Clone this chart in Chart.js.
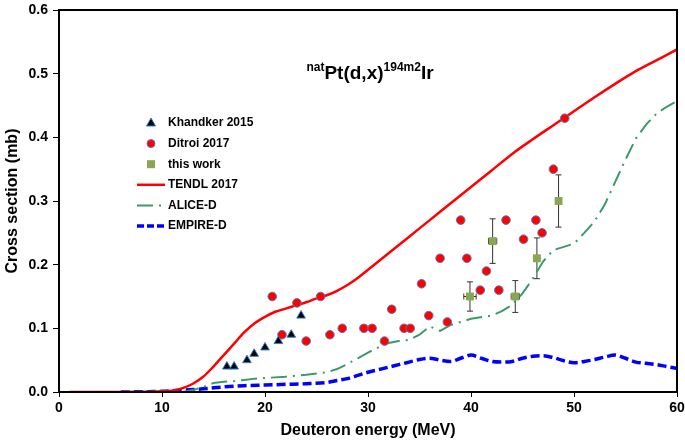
<!DOCTYPE html>
<html>
<head>
<meta charset="utf-8">
<script src="https://cdn.jsdelivr.net/npm/chart.js@4.4.1/dist/chart.umd.min.js"></script>
<style>
  html, body { margin: 0; padding: 0; background: #fff; }
</style>
</head>
<body>
<canvas id="xsChart" width="685" height="444"></canvas>
<script>
// Khandker 2015
const khandkerE  = [16.3, 17.0, 18.25, 18.95, 20.0, 21.3, 22.55, 23.5];
const khandkerXS = [0.04, 0.04, 0.05, 0.06, 0.07, 0.08, 0.09, 0.12];

// Ditroi 2017
const ditroiE  = [20.7, 21.65, 23.1, 24.0, 25.4, 26.3, 27.5, 29.6, 30.4, 31.6, 32.3, 33.5, 34.1, 35.2, 35.9,
                  37.0, 37.7, 39.0, 39.6, 40.9, 41.5, 42.7, 43.4, 45.1, 46.3, 46.9, 48.0, 49.1];
const ditroiXS = [0.15, 0.09, 0.14, 0.08, 0.15, 0.09, 0.10, 0.10, 0.10, 0.08, 0.13, 0.10, 0.10, 0.17, 0.12,
                  0.21, 0.11, 0.27, 0.21, 0.16, 0.19, 0.16, 0.27, 0.24, 0.27, 0.25, 0.35, 0.43];

// this work
const workE    = [39.9, 42.1, 44.3, 46.4, 48.5];
const workXS   = [0.15, 0.237, 0.15, 0.21, 0.30];
const workErrY = [0.023, 0.035, 0.025, 0.032, 0.041];
const workErrX = [0.6, 0.4, 0.4, 0, 0];

// TENDL 2017
const tendlE  = [1, 5, 10, 11, 12, 13, 14, 15, 16, 17, 18, 19, 20, 21, 22, 23, 24, 25, 26, 27, 28, 29, 30,
                 32, 34, 36, 38, 40, 42, 44, 46, 48, 50, 52, 54, 56, 58, 60];
const tendlXS = [0, 0, 0.001, 0.002, 0.006, 0.013, 0.024, 0.04, 0.058, 0.076, 0.094, 0.108, 0.118, 0.126,
                 0.131, 0.136, 0.141, 0.147, 0.152, 0.159, 0.168, 0.179, 0.192, 0.218, 0.244, 0.27, 0.296,
                 0.322, 0.348, 0.374, 0.397, 0.419, 0.441, 0.463, 0.484, 0.504, 0.521, 0.538];

// ALICE-D
const aliceE  = [12, 13, 14, 15, 16, 17, 18, 19, 20, 22, 24, 26, 27, 28, 29, 30, 31, 32, 33, 34, 35, 36, 37,
                 38, 40, 42, 43, 44, 45, 46, 47, 48, 49, 50, 51, 52, 53, 54, 55, 56, 57, 58, 59, 60];
const aliceXS = [0, 0.003, 0.008, 0.014, 0.016, 0.017, 0.019, 0.021, 0.022, 0.024, 0.027, 0.031, 0.036,
                 0.044, 0.053, 0.062, 0.07, 0.077, 0.08, 0.082, 0.09, 0.103, 0.096, 0.105, 0.115, 0.12,
                 0.127, 0.137, 0.155, 0.178, 0.205, 0.223, 0.228, 0.233, 0.25, 0.268, 0.295, 0.33, 0.365,
                 0.398, 0.42, 0.437, 0.448, 0.457];

// EMPIRE-D
const empireE  = [6, 10, 12, 14, 16, 18, 20, 22, 24, 26, 27, 28, 29, 30, 31, 32, 33, 34, 35, 36, 37, 38, 39,
                  40, 41, 42, 43, 44, 45, 46, 47, 48, 49, 50, 51, 52, 53, 54, 55, 56, 57, 58, 59, 60];
const empireXS = [0, 0.001, 0.003, 0.005, 0.008, 0.01, 0.011, 0.012, 0.013, 0.015, 0.018, 0.021, 0.026,
                  0.031, 0.035, 0.039, 0.043, 0.047, 0.051, 0.053, 0.05, 0.048, 0.053, 0.058, 0.053, 0.048,
                  0.047, 0.048, 0.053, 0.056, 0.057, 0.054, 0.049, 0.046, 0.048, 0.051, 0.055, 0.058, 0.053,
                  0.047, 0.045, 0.043, 0.04, 0.037];

const xTicks = [0, 10, 20, 30, 40, 50, 60];
const yTicks = [0.0, 0.1, 0.2, 0.3, 0.4, 0.5, 0.6];

const FONT = "'Liberation Sans', Arial, sans-serif";

function pts(xs, ys) {
    return xs.map((x, i) => ({ x: x, y: ys[i] }));
}

const legendItems = [
    { label: 'Khandker 2015', kind: 'triangle' },
    { label: 'Ditroi 2017', kind: 'circle' },
    { label: 'this work', kind: 'square' },
    { label: 'TENDL 2017', kind: 'solid' },
    { label: 'ALICE-D', kind: 'dashdot' },
    { label: 'EMPIRE-D', kind: 'dash' }
];

// error bars, frame, title and legend
const extrasPlugin = {
    id: 'extras',
    beforeDatasetsDraw(chart) {
        const ctx = chart.ctx;
        const xs = chart.scales.x, ys = chart.scales.y;
        ctx.save();
        ctx.strokeStyle = '#333';
        ctx.lineWidth = 1;
        workE.forEach((e, i) => {
            const px = xs.getPixelForValue(e);
            const py = ys.getPixelForValue(workXS[i]);
            const top = ys.getPixelForValue(workXS[i] + workErrY[i]);
            const bot = ys.getPixelForValue(workXS[i] - workErrY[i]);
            ctx.beginPath();
            ctx.moveTo(px, top); ctx.lineTo(px, bot);
            ctx.moveTo(px - 3, top); ctx.lineTo(px + 3, top);
            ctx.moveTo(px - 3, bot); ctx.lineTo(px + 3, bot);
            if (workErrX[i] > 0) {
                const l = xs.getPixelForValue(e - workErrX[i]);
                const r = xs.getPixelForValue(e + workErrX[i]);
                ctx.moveTo(l, py); ctx.lineTo(r, py);
                ctx.moveTo(l, py - 3); ctx.lineTo(l, py + 3);
                ctx.moveTo(r, py - 3); ctx.lineTo(r, py + 3);
            }
            ctx.stroke();
        });
        ctx.restore();
    },
    afterDraw(chart) {
        const ctx = chart.ctx;
        const a = chart.chartArea;
        ctx.save();
        // frame
        ctx.strokeStyle = '#000';
        ctx.lineWidth = 2;
        ctx.strokeRect(a.left, a.top, a.right - a.left, a.bottom - a.top);

        // title with superscripts
        const parts = [
            ['nat', 'bold 12px ' + FONT, 71],
            ['Pt(d,x)', 'bold 19px ' + FONT, 79],
            ['194m2', 'bold 12px ' + FONT, 71],
            ['Ir', 'bold 19px ' + FONT, 79]
        ];
        let total = 0;
        parts.forEach(p => { ctx.font = p[1]; total += ctx.measureText(p[0]).width; });
        let tx = 370 - total / 2;
        ctx.fillStyle = '#000';
        ctx.textBaseline = 'alphabetic';
        ctx.textAlign = 'left';
        parts.forEach(p => {
            ctx.font = p[1];
            ctx.fillText(p[0], tx, p[2]);
            tx += ctx.measureText(p[0]).width;
        });

        // legend
        const mx = 151, lx0 = 137, lx1 = 165, textX = 168;
        ctx.font = 'bold 12px ' + FONT;
        ctx.textBaseline = 'middle';
        legendItems.forEach((it, i) => {
            const y = 123 + i * 20.6;
            ctx.setLineDash([]);
            if (it.kind === 'triangle') {
                ctx.beginPath();
                ctx.moveTo(mx, y - 5); ctx.lineTo(mx + 4.5, y + 3); ctx.lineTo(mx - 4.5, y + 3);
                ctx.closePath();
                ctx.fillStyle = '#000'; ctx.fill();
                ctx.strokeStyle = '#2a7fd4'; ctx.lineWidth = 1; ctx.stroke();
            } else if (it.kind === 'circle') {
                ctx.beginPath();
                ctx.arc(mx, y, 4, 0, Math.PI * 2);
                ctx.fillStyle = '#ff0000'; ctx.fill();
                ctx.strokeStyle = '#5b78b0'; ctx.lineWidth = 1; ctx.stroke();
            } else if (it.kind === 'square') {
                ctx.fillStyle = '#8ca552';
                ctx.fillRect(mx - 4, y - 4, 8, 8);
            } else if (it.kind === 'solid') {
                ctx.strokeStyle = '#ff0000'; ctx.lineWidth = 2.5;
                ctx.beginPath(); ctx.moveTo(lx0, y); ctx.lineTo(lx1, y); ctx.stroke();
            } else if (it.kind === 'dashdot') {
                ctx.strokeStyle = '#3a9a6c'; ctx.lineWidth = 2;
                ctx.setLineDash([16, 6, 2, 6]);
                ctx.beginPath(); ctx.moveTo(lx0, y); ctx.lineTo(lx1, y); ctx.stroke();
            } else {
                ctx.strokeStyle = '#0000ff'; ctx.lineWidth = 3.5;
                ctx.setLineDash([7, 3]);
                ctx.beginPath(); ctx.moveTo(lx0, y); ctx.lineTo(lx1, y); ctx.stroke();
            }
            ctx.setLineDash([]);
            ctx.fillStyle = '#000';
            ctx.fillText(it.label, textX, y);
        });
        ctx.restore();
    }
};

const xsChart = new Chart(document.getElementById('xsChart').getContext('2d'), {
    type: 'scatter',
    data: {
        datasets: [
            {
                label: 'Khandker 2015',
                data: pts(khandkerE, khandkerXS),
                pointStyle: 'triangle',
                pointRadius: 5,
                backgroundColor: '#000',
                borderColor: '#2a7fd4',
                borderWidth: 1,
                order: 0
            },
            {
                label: 'Ditroi 2017',
                data: pts(ditroiE, ditroiXS),
                pointStyle: 'circle',
                pointRadius: 4.3,
                backgroundColor: '#ff0000',
                borderColor: '#5b78b0',
                borderWidth: 1,
                order: 0
            },
            {
                label: 'this work',
                data: pts(workE, workXS),
                pointStyle: 'rect',
                pointRadius: 5.6,
                backgroundColor: '#8ca552',
                borderColor: '#8ca552',
                borderWidth: 0,
                order: 0
            },
            {
                label: 'TENDL 2017',
                data: pts(tendlE, tendlXS),
                showLine: true,
                pointRadius: 0,
                borderColor: '#ff0000',
                borderWidth: 2.5,
                cubicInterpolationMode: 'monotone',
                order: 1
            },
            {
                label: 'ALICE-D',
                data: pts(aliceE, aliceXS),
                showLine: true,
                pointRadius: 0,
                borderColor: '#3a9a6c',
                borderWidth: 2,
                borderDash: [16, 6, 2, 6],
                order: 1
            },
            {
                label: 'EMPIRE-D',
                data: pts(empireE, empireXS),
                showLine: true,
                pointRadius: 0,
                borderColor: '#0000ff',
                borderWidth: 3.5,
                borderDash: [9, 4],
                cubicInterpolationMode: 'monotone',
                order: 1
            }
        ]
    },
    options: {
        responsive: false,
        animation: false,
        layout: { padding: { top: 10, right: 8, left: 0, bottom: 0 } },
        plugins: {
            legend: { display: false },
            tooltip: { enabled: false }
        },
        scales: {
            x: {
                type: 'linear',
                min: 0,
                max: 60,
                afterBuildTicks: s => { s.ticks = xTicks.map(v => ({ value: v })); },
                afterFit: s => { s.height = 52; s.paddingLeft = 0; s.paddingRight = 0; },
                ticks: { color: '#000', font: { family: FONT, size: 14, weight: 'bold' }, padding: 3 },
                grid: { drawOnChartArea: false, drawTicks: true, tickLength: 5, color: '#000' },
                border: { display: true, color: '#000', width: 2 },
                title: {
                    display: true,
                    text: 'Deuteron energy (MeV)',
                    color: '#000',
                    font: { family: FONT, size: 16, weight: 'bold' },
                    padding: { top: 0, bottom: 4 }
                }
            },
            y: {
                type: 'linear',
                min: 0,
                max: 0.6,
                afterBuildTicks: s => { s.ticks = yTicks.map(v => ({ value: v })); },
                afterFit: s => { s.width = 59; s.paddingTop = 0; s.paddingBottom = 0; },
                ticks: {
                    color: '#000',
                    font: { family: FONT, size: 14, weight: 'bold' },
                    padding: 5,
                    callback: v => v.toFixed(1)
                },
                grid: { drawOnChartArea: false, drawTicks: true, tickLength: 6, color: '#000' },
                border: { display: true, color: '#000', width: 2 },
                title: {
                    display: true,
                    text: 'Cross section (mb)',
                    color: '#000',
                    font: { family: FONT, size: 16, weight: 'bold' },
                    padding: { top: 3, bottom: 0 }
                }
            }
        }
    },
    plugins: [extrasPlugin]
});
</script>
</body>
</html>
